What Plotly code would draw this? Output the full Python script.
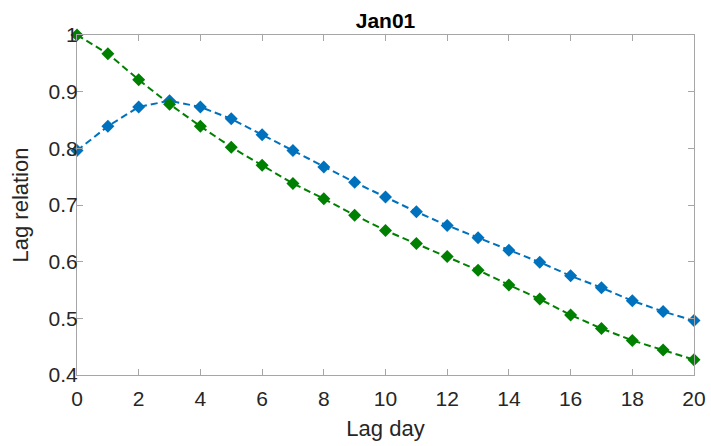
import plotly.graph_objects as go

lag_days = list(range(0, 21))
blue_vals = [0.796, 0.839, 0.873, 0.884, 0.873, 0.852, 0.824, 0.796, 0.767, 0.740, 0.714,
             0.688, 0.664, 0.642, 0.620, 0.599, 0.575, 0.554, 0.531, 0.512, 0.496]
green_vals = [1.000, 0.967, 0.921, 0.878, 0.839, 0.802, 0.770, 0.738, 0.711, 0.682, 0.655,
              0.632, 0.609, 0.585, 0.559, 0.534, 0.506, 0.482, 0.461, 0.444, 0.427]
x_ticks = list(range(0, 21, 2))
y_ticks = [0.4, 0.5, 0.6, 0.7, 0.8, 0.9, 1.0]
y_ticklabels = ["0.4", "0.5", "0.6", "0.7", "0.8", "0.9", "1"]

FONT = "Liberation Sans, Arial, sans-serif"
AXC = "#a6a6a6"
TXT = "#262626"

fig = go.Figure()
fig.add_trace(go.Scatter(
    x=lag_days, y=blue_vals, mode="lines+markers",
    line=dict(color="#0072BD", width=2, dash="7px,4px"),
    marker=dict(symbol="diamond", size=10, color="#0072BD"),
    showlegend=False, cliponaxis=False))
fig.add_trace(go.Scatter(
    x=lag_days, y=green_vals, mode="lines+markers",
    line=dict(color="#008000", width=2, dash="7px,4px"),
    marker=dict(symbol="diamond", size=10, color="#008000"),
    showlegend=False, cliponaxis=False))

fig.update_layout(
    width=711, height=446,
    margin=dict(l=77, r=17, t=35, b=71),
    paper_bgcolor="white", plot_bgcolor="white",
    font=dict(family=FONT, color=TXT, size=20),
    title=dict(text="<b>Jan01</b>", x=(77 + 694) / 2 / 711, xanchor="center",
               y=1 - 28 / 446, yanchor="bottom", font=dict(size=21, color="black")),
)
fig.update_xaxes(
    range=[0, 20], tickvals=x_ticks, ticks="inside", ticklen=6, tickcolor=AXC,
    showline=True, linecolor=AXC, linewidth=1, mirror="ticks", showgrid=False,
    zeroline=False, tickfont=dict(size=21, color=TXT), ticklabelstandoff=5,
    automargin=False,
    title=dict(text="Lag day", font=dict(size=22, color=TXT), standoff=11))
fig.update_yaxes(
    range=[0.4, 1.0], tickvals=y_ticks, ticktext=y_ticklabels, ticks="inside", ticklen=6,
    tickcolor=AXC, showline=True, linecolor=AXC, linewidth=1, mirror="ticks",
    showgrid=False, zeroline=False, tickfont=dict(size=21, color=TXT),
    ticklabelstandoff=-6, automargin=False,
    title=dict(text="Lag relation", font=dict(size=22, color=TXT), standoff=13))

fig.write_html("out.html")
